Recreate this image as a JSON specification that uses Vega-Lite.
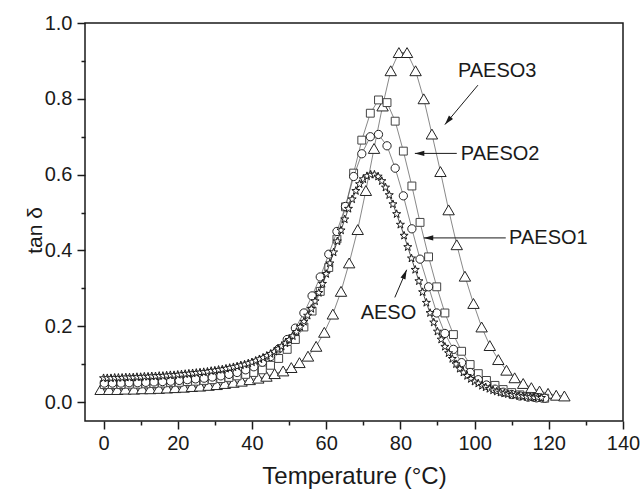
{
  "$schema": "https://vega.github.io/schema/vega-lite/v6.json",
  "width": 538,
  "height": 398,
  "autosize": {"type": "none"},
  "padding": {"left": 85, "top": 23, "right": 17, "bottom": 72},
  "background": "white",
  "config": {
    "view": {"stroke": "#1a1a1a", "strokeWidth": 1.5},
    "font": "Liberation Sans"
  },
  "datasets": {
    "aeso": [
      {"t":0,"v":0.063},{"t":1,"v":0.063},{"t":2,"v":0.063},{"t":3,"v":0.064},{"t":4,"v":0.064},{"t":5,"v":0.064},{"t":6,"v":0.065},{"t":7,"v":0.065},{"t":8,"v":0.065},{"t":9,"v":0.066},
      {"t":10,"v":0.066},{"t":11,"v":0.067},{"t":12,"v":0.067},{"t":13,"v":0.068},{"t":14,"v":0.068},{"t":15,"v":0.069},{"t":16,"v":0.069},{"t":17,"v":0.070},{"t":18,"v":0.071},{"t":19,"v":0.071},
      {"t":20,"v":0.072},{"t":21,"v":0.073},{"t":22,"v":0.074},{"t":23,"v":0.075},{"t":24,"v":0.076},{"t":25,"v":0.077},{"t":26,"v":0.078},{"t":27,"v":0.079},{"t":28,"v":0.080},{"t":29,"v":0.082},
      {"t":30,"v":0.083},{"t":31,"v":0.085},{"t":32,"v":0.086},{"t":33,"v":0.088},{"t":34,"v":0.090},{"t":35,"v":0.092},{"t":36,"v":0.094},{"t":37,"v":0.097},{"t":38,"v":0.099},{"t":39,"v":0.102},
      {"t":40,"v":0.105},{"t":41,"v":0.109},{"t":42,"v":0.113},{"t":43,"v":0.117},{"t":44,"v":0.122},{"t":45,"v":0.127},{"t":46,"v":0.133},{"t":47,"v":0.140},{"t":48,"v":0.147},{"t":49,"v":0.155},
      {"t":50,"v":0.164},{"t":51,"v":0.174},{"t":52,"v":0.185},{"t":53,"v":0.198},{"t":54,"v":0.212},{"t":55,"v":0.228},{"t":56,"v":0.246},{"t":57,"v":0.266},{"t":58,"v":0.288},{"t":59,"v":0.312},
      {"t":60,"v":0.338},{"t":61,"v":0.366},{"t":62,"v":0.395},{"t":63,"v":0.424},{"t":64,"v":0.453},{"t":65,"v":0.482},{"t":66,"v":0.510},{"t":67,"v":0.535},{"t":68,"v":0.557},{"t":69,"v":0.575},
      {"t":70,"v":0.588},{"t":71,"v":0.596},{"t":72,"v":0.600},{"t":73,"v":0.600},{"t":74,"v":0.595},{"t":75,"v":0.583},{"t":76,"v":0.566},{"t":77,"v":0.546},{"t":78,"v":0.522},{"t":79,"v":0.496},
      {"t":80,"v":0.468},{"t":81,"v":0.439},{"t":82,"v":0.409},{"t":83,"v":0.379},{"t":84,"v":0.349},{"t":85,"v":0.319},{"t":86,"v":0.290},{"t":87,"v":0.262},{"t":88,"v":0.235},{"t":89,"v":0.210},
      {"t":90,"v":0.186},{"t":91,"v":0.165},{"t":92,"v":0.146},{"t":93,"v":0.129},{"t":94,"v":0.114},{"t":95,"v":0.100},{"t":96,"v":0.088},{"t":97,"v":0.078},{"t":98,"v":0.069},{"t":99,"v":0.061},
      {"t":100,"v":0.054},{"t":101,"v":0.049},{"t":102,"v":0.043},{"t":103,"v":0.039},{"t":104,"v":0.035},{"t":105,"v":0.031},{"t":106,"v":0.028},{"t":107,"v":0.025},{"t":108,"v":0.023},{"t":109,"v":0.021},
      {"t":110,"v":0.019},{"t":111,"v":0.018},{"t":112,"v":0.016},{"t":113,"v":0.015},{"t":114,"v":0.014},{"t":115,"v":0.013},{"t":116,"v":0.012},{"t":117,"v":0.012},{"t":118,"v":0.011}
    ],
    "paeso1": [
      {"t":0.2,"v":0.050},{"t":2.4,"v":0.050},{"t":4.7,"v":0.050},{"t":6.9,"v":0.051},{"t":9.2,"v":0.051},{"t":11.4,"v":0.052},{"t":13.6,"v":0.053},{"t":15.9,"v":0.054},{"t":18.1,"v":0.055},{"t":20.4,"v":0.057},
      {"t":22.6,"v":0.059},{"t":24.8,"v":0.061},{"t":27.1,"v":0.063},{"t":29.3,"v":0.066},{"t":31.6,"v":0.069},{"t":33.8,"v":0.073},{"t":36.0,"v":0.078},{"t":38.3,"v":0.085},{"t":40.5,"v":0.093},{"t":42.8,"v":0.105},
      {"t":45.0,"v":0.120},{"t":47.2,"v":0.140},{"t":49.5,"v":0.165},{"t":51.7,"v":0.195},{"t":54.0,"v":0.235},{"t":56.2,"v":0.280},{"t":58.4,"v":0.330},{"t":60.7,"v":0.390},{"t":62.9,"v":0.450},{"t":65.2,"v":0.516},
      {"t":67.4,"v":0.595},{"t":69.6,"v":0.655},{"t":71.9,"v":0.700},{"t":74.1,"v":0.706},{"t":76.4,"v":0.676},{"t":78.6,"v":0.617},{"t":80.8,"v":0.544},{"t":83.1,"v":0.457},{"t":85.3,"v":0.377},{"t":87.6,"v":0.304},
      {"t":89.8,"v":0.235},{"t":92.0,"v":0.181},{"t":94.3,"v":0.139},{"t":96.5,"v":0.104},{"t":98.8,"v":0.078},{"t":101.0,"v":0.059},{"t":103.2,"v":0.045},{"t":105.5,"v":0.034},{"t":107.7,"v":0.026},{"t":110.0,"v":0.020},
      {"t":112.2,"v":0.016},{"t":114.4,"v":0.013},{"t":116.7,"v":0.011},{"t":118.9,"v":0.010}
    ],
    "paeso2": [
      {"t":0.2,"v":0.046},{"t":2.4,"v":0.046},{"t":4.7,"v":0.046},{"t":6.9,"v":0.047},{"t":9.2,"v":0.047},{"t":11.4,"v":0.048},{"t":13.6,"v":0.049},{"t":15.9,"v":0.050},{"t":18.1,"v":0.051},{"t":20.4,"v":0.052},
      {"t":22.6,"v":0.054},{"t":24.8,"v":0.055},{"t":27.1,"v":0.057},{"t":29.3,"v":0.059},{"t":31.6,"v":0.062},{"t":33.8,"v":0.065},{"t":36.0,"v":0.069},{"t":38.3,"v":0.073},{"t":40.5,"v":0.078},{"t":42.8,"v":0.085},
      {"t":45.0,"v":0.097},{"t":47.2,"v":0.115},{"t":49.5,"v":0.139},{"t":51.7,"v":0.165},{"t":54.0,"v":0.198},{"t":56.2,"v":0.240},{"t":58.4,"v":0.292},{"t":60.7,"v":0.355},{"t":62.9,"v":0.430},{"t":65.2,"v":0.515},
      {"t":67.4,"v":0.604},{"t":69.6,"v":0.691},{"t":71.9,"v":0.762},{"t":74.1,"v":0.797},{"t":76.4,"v":0.790},{"t":78.6,"v":0.741},{"t":80.8,"v":0.662},{"t":83.1,"v":0.570},{"t":85.3,"v":0.474},{"t":87.6,"v":0.383},
      {"t":89.8,"v":0.304},{"t":92.0,"v":0.235},{"t":94.3,"v":0.178},{"t":96.5,"v":0.134},{"t":98.8,"v":0.099},{"t":101.0,"v":0.075},{"t":103.2,"v":0.057},{"t":105.5,"v":0.044},{"t":107.7,"v":0.033},{"t":110.0,"v":0.025},
      {"t":112.2,"v":0.019},{"t":114.4,"v":0.015},{"t":116.7,"v":0.012},{"t":118.9,"v":0.010}
    ],
    "paeso3": [
      {"t":-0.8,"v":0.033},{"t":1.5,"v":0.033},{"t":3.7,"v":0.033},{"t":5.9,"v":0.034},{"t":8.2,"v":0.034},{"t":10.4,"v":0.035},{"t":12.6,"v":0.035},{"t":14.9,"v":0.036},{"t":17.1,"v":0.037},{"t":19.3,"v":0.038},
      {"t":21.6,"v":0.039},{"t":23.8,"v":0.041},{"t":26.0,"v":0.042},{"t":28.3,"v":0.044},{"t":30.5,"v":0.046},{"t":32.7,"v":0.049},{"t":35.0,"v":0.052},{"t":37.2,"v":0.055},{"t":39.4,"v":0.059},{"t":41.7,"v":0.063},
      {"t":43.9,"v":0.068},{"t":46.1,"v":0.075},{"t":48.4,"v":0.082},{"t":50.6,"v":0.091},{"t":52.8,"v":0.104},{"t":55.1,"v":0.121},{"t":57.3,"v":0.147},{"t":59.5,"v":0.184},{"t":61.8,"v":0.232},{"t":64.0,"v":0.292},
      {"t":66.2,"v":0.367},{"t":68.5,"v":0.455},{"t":70.7,"v":0.558},{"t":72.9,"v":0.669},{"t":75.2,"v":0.781},{"t":77.4,"v":0.874},{"t":79.6,"v":0.922},{"t":81.8,"v":0.922},{"t":84.1,"v":0.874},{"t":86.3,"v":0.800},
      {"t":88.5,"v":0.707},{"t":90.8,"v":0.608},{"t":93.0,"v":0.507},{"t":95.2,"v":0.415},{"t":97.4,"v":0.332},{"t":99.7,"v":0.260},{"t":101.9,"v":0.198},{"t":104.1,"v":0.149},{"t":106.4,"v":0.112},{"t":108.6,"v":0.084},
      {"t":110.8,"v":0.064},{"t":113.1,"v":0.049},{"t":115.3,"v":0.038},{"t":117.5,"v":0.029},{"t":119.8,"v":0.023},{"t":122.0,"v":0.018},{"t":124.2,"v":0.016}
    ],
    "arrows": [
      {"label":"PAESO3","t":100.9,"v":0.836,"t2":92.0,"v2":0.732},
      {"label":"PAESO2","t":95.2,"v":0.656,"t2":83.9,"v2":0.656},
      {"label":"PAESO1","t":108.4,"v":0.433,"t2":86.3,"v2":0.433},
      {"label":"AESO","t":78.5,"v":0.276,"t2":81.7,"v2":0.349}
    ],
    "labels": [
      {"label":"PAESO3","t":95.5,"v":0.873},
      {"label":"PAESO2","t":96.3,"v":0.654},
      {"label":"PAESO1","t":109.3,"v":0.433},
      {"label":"AESO","t":69.3,"v":0.236}
    ]
  },
  "encoding": {
    "x": {
      "field": "t", "type": "quantitative",
      "scale": {"domain": [-5, 140], "nice": false, "zero": false},
      "axis": {
        "values": [0,10,20,30,40,50,60,70,80,90,100,110,120,130,140],
        "labelExpr": "datum.value % 20 == 0 ? datum.label : ''",
        "tickSize": {"condition": {"test": "datum.value % 20 == 0", "value": 8}, "value": 4},
        "tickColor": "#1a1a1a", "tickWidth": 1.5,
        "domain": false, "grid": false,
        "labelFontSize": 20, "labelColor": "#1a1a1a", "labelPadding": 4,
        "labelOverlap": false, "labelFlush": false, "labelBound": false,
        "title": "Temperature (°C)", "titleFontSize": 24, "titleFontWeight": "normal",
        "titleColor": "#1a1a1a", "titlePadding": 11
      }
    },
    "y": {
      "field": "v", "type": "quantitative",
      "scale": {"domain": [-0.05, 1.0], "nice": false, "zero": false},
      "axis": {
        "values": [0,0.1,0.2,0.3,0.4,0.5,0.6,0.7,0.8,0.9,1.0],
        "labelExpr": "round(datum.value*10) % 2 == 0 ? format(datum.value, '.1f') : ''",
        "tickSize": {"condition": {"test": "round(datum.value*10) % 2 == 0", "value": 8}, "value": 4},
        "tickColor": "#1a1a1a", "tickWidth": 1.5,
        "domain": false, "grid": false,
        "labelFontSize": 20, "labelColor": "#1a1a1a", "labelPadding": 5,
        "labelOverlap": false, "labelFlush": false, "labelBound": false,
        "title": "tan δ", "titleFontSize": 21, "titleFontWeight": "normal",
        "titleColor": "#1a1a1a", "titlePadding": -1, "titleY": 207
      }
    }
  },
  "layer": [
    {"data": {"name": "paeso3"}, "mark": {"type": "line", "color": "#555", "strokeWidth": 0.7}, "encoding": {}},
    {"data": {"name": "paeso3"}, "mark": {"type": "point", "shape": "triangle-up", "size": 130, "filled": false, "fill": "white", "fillOpacity": 1, "stroke": "#222", "strokeWidth": 1, "opacity": 1}, "encoding": {}},
    {"data": {"name": "paeso2"}, "mark": {"type": "line", "color": "#555", "strokeWidth": 0.7}, "encoding": {}},
    {"data": {"name": "paeso2"}, "mark": {"type": "point", "shape": "square", "size": 62, "filled": false, "fill": "white", "fillOpacity": 1, "stroke": "#444", "strokeWidth": 1, "opacity": 1}, "encoding": {}},
    {"data": {"name": "paeso1"}, "mark": {"type": "line", "color": "#555", "strokeWidth": 0.7}, "encoding": {}},
    {"data": {"name": "paeso1"}, "mark": {"type": "point", "shape": "circle", "size": 68, "filled": false, "fill": "white", "fillOpacity": 1, "stroke": "#222", "strokeWidth": 1, "opacity": 1}, "encoding": {}},
    {"data": {"name": "aeso"}, "mark": {"type": "line", "color": "#222", "strokeWidth": 0.8}, "encoding": {}},
    {"data": {"name": "aeso"}, "mark": {"type": "point", "shape": "M0,-1L0.235,-0.324L0.951,-0.309L0.38,0.124L0.588,0.809L0,0.4L-0.588,0.809L-0.38,0.124L-0.951,-0.309L-0.235,-0.324Z", "size": 72, "filled": false, "fill": "white", "fillOpacity": 1, "stroke": "#1a1a1a", "strokeWidth": 1, "opacity": 1}, "encoding": {}},
    {"data": {"name": "arrows"}, "mark": {"type": "rule", "color": "#1a1a1a", "strokeWidth": 1}, "encoding": {"x2": {"field": "t2"}, "y2": {"field": "v2"}}},
    {"data": {"name": "arrows"}, "transform": [{"filter": "datum.label == 'PAESO3'"}], "mark": {"type": "point", "shape": "M0,0L0.45,1.6L-0.45,1.6Z", "size": 140, "filled": true, "color": "#1a1a1a", "opacity": 1, "angle": 220}, "encoding": {"x": {"field": "t2", "type": "quantitative"}, "y": {"field": "v2", "type": "quantitative"}}},
    {"data": {"name": "arrows"}, "transform": [{"filter": "datum.label == 'PAESO2' || datum.label == 'PAESO1'"}], "mark": {"type": "point", "shape": "M0,0L0.45,1.6L-0.45,1.6Z", "size": 140, "filled": true, "color": "#1a1a1a", "opacity": 1, "angle": 270}, "encoding": {"x": {"field": "t2", "type": "quantitative"}, "y": {"field": "v2", "type": "quantitative"}}},
    {"data": {"name": "arrows"}, "transform": [{"filter": "datum.label == 'AESO'"}], "mark": {"type": "point", "shape": "M0,0L0.45,1.6L-0.45,1.6Z", "size": 140, "filled": true, "color": "#1a1a1a", "opacity": 1, "angle": 23}, "encoding": {"x": {"field": "t2", "type": "quantitative"}, "y": {"field": "v2", "type": "quantitative"}}},
    {"data": {"name": "labels"}, "mark": {"type": "text", "align": "left", "baseline": "middle", "fontSize": 20, "font": "Liberation Sans", "color": "#1a1a1a"}, "encoding": {"text": {"field": "label"}}}
  ]
}
